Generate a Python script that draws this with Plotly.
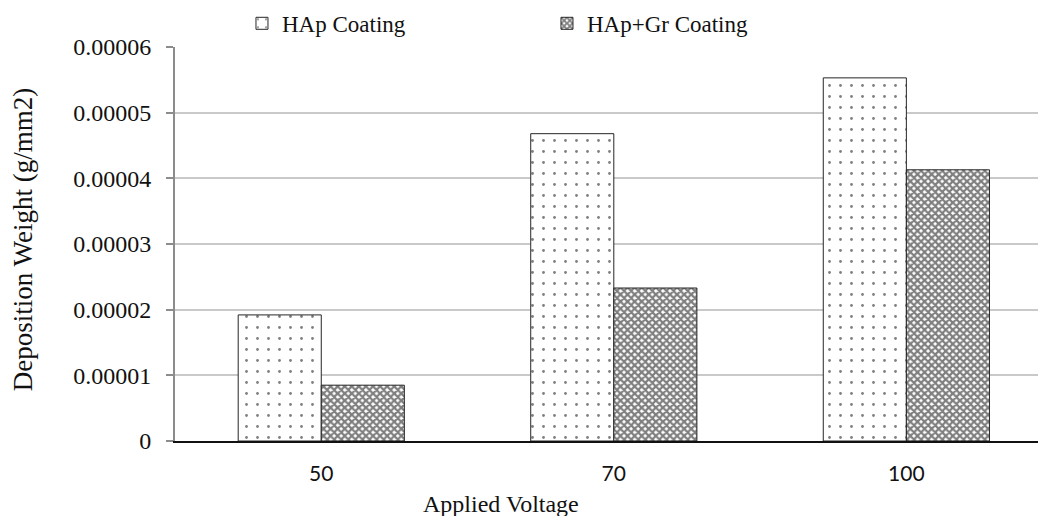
import plotly.graph_objects as go

# Applied voltage categories and deposition weight per unit area (g/mm2)
voltages = ["50", "70", "100"]
hap_coating = [1.92e-5, 4.68e-5, 5.53e-5]
hap_gr_coating = [0.85e-5, 2.33e-5, 4.13e-5]

y_tick_values = [0, 1e-5, 2e-5, 3e-5, 4e-5, 5e-5, 6e-5]
y_tick_labels = ["0", "0.00001", "0.00002", "0.00003", "0.00004", "0.00005", "0.00006"]

serif = "Liberation Serif, Times New Roman, serif"
ink = "#111111"

fig = go.Figure()
fig.add_trace(go.Bar(
    name="HAp Coating",
    x=voltages, y=hap_coating,
    marker=dict(
        color="white",
        line=dict(color="#262626", width=1),
        pattern=dict(shape=".", size=11, solidity=0.05, fgcolor="black", bgcolor="white"),
    ),
))
fig.add_trace(go.Bar(
    name="HAp+Gr Coating",
    x=voltages, y=hap_gr_coating,
    marker=dict(
        color="white",
        line=dict(color="#262626", width=1),
        pattern=dict(shape="x", size=5, solidity=0.7, fgcolor="black", bgcolor="white"),
    ),
))

fig.update_layout(
    width=1038, height=516,
    margin=dict(l=175, r=0, t=47, b=75),
    paper_bgcolor="white", plot_bgcolor="white",
    barmode="group", bargap=0.432, bargroupgap=0,
    font=dict(family=serif, size=20, color=ink),
    legend=dict(
        orientation="h", x=0.0776, xanchor="left", y=1.06, yanchor="middle",
        font=dict(family=serif, size=23, color=ink),
        entrywidth=260, entrywidthmode="pixels", itemwidth=30,
        bgcolor="rgba(0,0,0,0)",
    ),
    xaxis=dict(
        type="category", range=[-0.5, 2.45],
        showgrid=False, ticks="",
        showline=True, linecolor="#111111", linewidth=2,
        tickfont=dict(family="Lato, Open Sans, sans-serif", size=21, color=ink),
        ticklabelstandoff=13,
    ),
    yaxis=dict(
        range=[0, 6e-5],
        tickvals=y_tick_values, ticktext=y_tick_labels,
        tickfont=dict(family=serif, size=24, color=ink),
        showgrid=True, gridcolor="#c9c9c9", gridwidth=1.5,
        showline=True, linecolor="#8c8c8c", linewidth=2,
        ticks="outside", ticklen=7, tickcolor="#8c8c8c", tickwidth=1.5,
        ticklabelstandoff=10,
        zeroline=False,
    ),
    annotations=[
        dict(text="Applied Voltage", xref="paper", yref="paper",
             x=(501 - 175) / 863, y=-0.16, xanchor="center", yanchor="middle",
             showarrow=False, font=dict(family=serif, size=24, color=ink)),
        dict(text="Deposition Weight (g/mm2)", xref="paper", yref="paper",
             x=-0.176, y=0.51, xanchor="center", yanchor="middle", textangle=-90,
             showarrow=False, font=dict(family=serif, size=27, color=ink)),
    ],
)

fig.write_html("out.html")
